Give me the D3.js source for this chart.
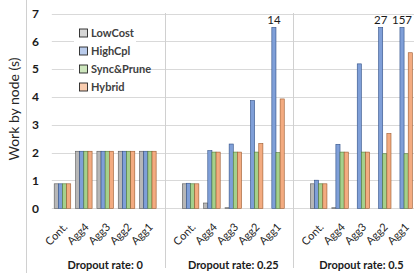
<!DOCTYPE html>
<html><head><meta charset="utf-8">
<script src="https://cdn.jsdelivr.net/npm/d3@7"></script>
<style>body{margin:0;background:#fff}svg{display:block}text{font-family:Lato,"Open Sans",sans-serif}</style>
</head><body><svg id="c" width="414" height="275"></svg>
<script>
const categories = ["Cont.","Agg4","Agg3","Agg2","Agg1"];
const groups = ["Dropout rate: 0","Dropout rate: 0.25","Dropout rate: 0.5"];
const series = ["LowCost","HighCpl","Sync&Prune","Hybrid"];
const lowCost = [0.88,2.05,2.05,2.05,2.05, 0.88,0.19,0.02,0,0, 0.88,0.02,0,0,0];
const highCpl = [0.88,2.05,2.05,2.05,2.05, 0.90,2.07,2.31,3.87,14, 1.01,2.30,5.19,27,157];
const syncPrune = [0.88,2.05,2.05,2.05,2.05, 0.88,2.02,2.02,2.02,2.00, 0.88,2.02,2.02,1.96,1.96];
const hybrid = [0.88,2.05,2.05,2.05,2.05, 0.88,2.02,2.02,2.33,3.93, 0.88,2.02,2.02,2.69,5.59];
const yTicks = [0,1,2,3,4,5,6,7];

const seriesValues = [lowCost, highCpl, syncPrune, hybrid];
const barColors = ["#b7b7b7","#7f9fd8","#a5d08c","#f3ab80"];
const strokeColors = ["#595959","#2f4f86","#4f7a35","#9c5a2e"];
const legendColors = ["#d6d6d6","#b9cbeb","#cde6bd","#f9cdb0"];
const clipAt = 6.5;

const svg = d3.select("#c");
const slots = [];
groups.forEach((g,gi)=>{
  categories.forEach(c=>slots.push(gi+"|"+c));
  if (gi < groups.length-1) slots.push("blank"+gi);
});
const x = d3.scaleBand().domain(slots).range([51.8, 414.75]).padding(0);
const step = x.bandwidth();
const xs = d3.scaleBand().domain(series).range([2.4, step-2.4]).padding(0);
const y = d3.scaleLinear().domain([0,7]).range([208.3, 13.5]);

// gridlines
svg.append("g").selectAll("line").data(yTicks).join("line")
  .attr("x1",51.8).attr("x2",414).attr("y1",d=>Math.round(y(d))+0.5).attr("y2",d=>Math.round(y(d))+0.5)
  .attr("stroke","#d9d9d9").attr("stroke-width",1);

// left axis line
svg.append("line").attr("x1",26.5).attr("x2",26.5).attr("y1",0).attr("y2",273).attr("stroke","#d0d0d0");

// separators
[0,1].forEach(i=>{
  const sx = Math.round(x("blank"+i) + step*0.3) + 0.5;
  svg.append("line").attr("x1",sx).attr("x2",sx).attr("y1",13).attr("y2",268).attr("stroke","#d0d0d0");
});

// y tick labels
svg.append("g").selectAll("text").data(yTicks).join("text")
  .attr("x",39).attr("y",d=>y(d)).attr("dy","0.35em").attr("text-anchor","end")
  .attr("font-size",12).attr("font-weight","bold").attr("fill","#1a1a1a").text(d=>d);

// y title
svg.append("text").attr("transform","translate(19,109) rotate(-90)").attr("text-anchor","middle")
  .attr("font-size",14).attr("fill","#262626").text("Work by node (s)");

// bars
const barsData = [];
groups.forEach((g,gi)=>categories.forEach((c,ci)=>series.forEach((s,si)=>{
  const v = seriesValues[si][gi*categories.length+ci];
  barsData.push({key:gi+"|"+c, s, si, v});
})));
svg.append("g").selectAll("rect").data(barsData.filter(d=>d.v>0)).join("rect")
  .attr("x",d=>x(d.key)+xs(d.s)).attr("width",xs.bandwidth())
  .attr("y",d=>y(Math.min(d.v,clipAt))).attr("height",d=>y(0)-y(Math.min(d.v,clipAt)))
  .attr("fill",d=>barColors[d.si]).attr("stroke",d=>strokeColors[d.si]).attr("stroke-width",0.6);

// clipped value labels
svg.append("g").selectAll("text").data(barsData.filter(d=>d.v>7)).join("text")
  .attr("x",d=>x(d.key)+xs(d.s)+xs.bandwidth()/2).attr("y",20).attr("dy","0.35em")
  .attr("text-anchor","middle").attr("font-size",11.5).attr("fill","#1a1a1a")
  .text(d=>d.v);

// category labels
svg.append("g").selectAll("text").data(slots.filter(s=>!s.startsWith("blank"))).join("text")
  .attr("transform",d=>`translate(${x(d)+step/2+3},${225}) rotate(-45)`)
  .attr("text-anchor","end").attr("dy","0.35em").attr("font-size",11).attr("fill","#262626")
  .text(d=>d.split("|")[1]);

// group labels
groups.forEach((g,gi)=>{
  const cx = (x(gi+"|"+categories[0]) + x(gi+"|"+categories[categories.length-1]) + step)/2;
  svg.append("text").attr("x",cx).attr("y",265).attr("dy","0.35em").attr("text-anchor","middle")
    .attr("font-size",11).attr("font-weight","bold").attr("fill","#1a1a1a").text(g);
});

// legend
const lg = svg.append("g");
lg.append("rect").attr("x",74).attr("y",24).attr("width",62).attr("height",72).attr("fill","#fff");
series.forEach((s,i)=>{
  const ly = 33 + i*18;
  lg.append("rect").attr("x",79.5).attr("y",ly-4).attr("width",8).attr("height",8)
    .attr("fill",legendColors[i]).attr("stroke","#262626").attr("stroke-width",0.9);
  lg.append("text").attr("x",91).attr("y",ly).attr("dy","0.35em").attr("font-size",11)
    .attr("font-weight","bold").attr("fill","#404040").text(s);
});
</script></body></html>
